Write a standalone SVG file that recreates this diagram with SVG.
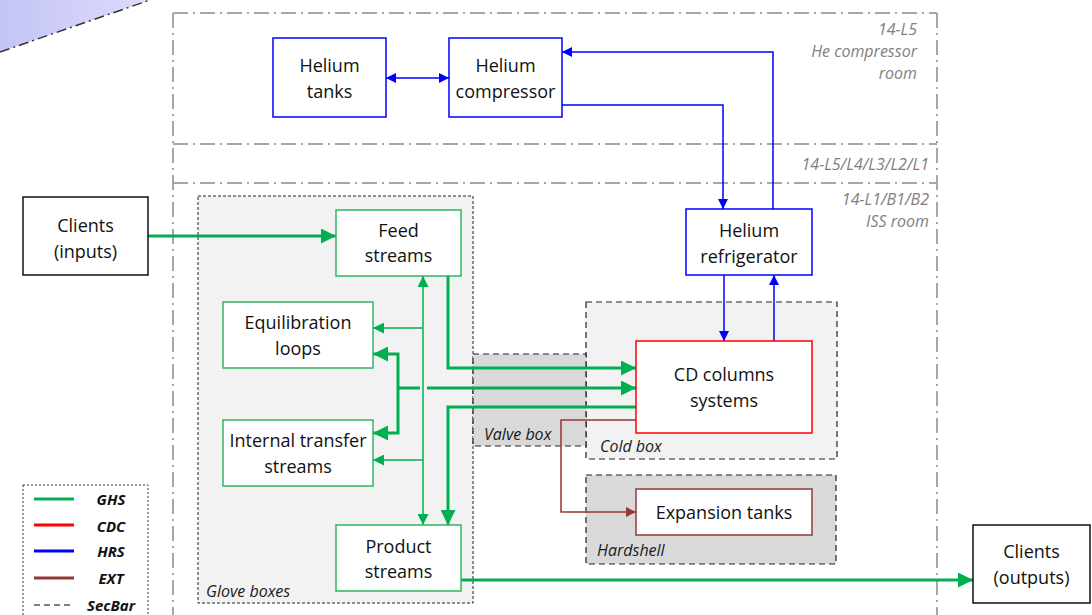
<svg xmlns="http://www.w3.org/2000/svg" width="1092" height="615" viewBox="0 0 1092 615">
<style>
.room{stroke:#a6a6a6;stroke-width:2;fill:none;stroke-dasharray:15 5 2 5}
.roomlbl{font-family:"Open Sans","Liberation Sans",sans-serif;font-style:italic;font-size:16px;fill:#808080;text-anchor:end}
.cont{stroke:#222;stroke-width:1.2;stroke-dasharray:6 4}
.glove{stroke:#222;stroke-width:1;stroke-dasharray:3 2;fill:#f2f2f2}
.contlbl{font-family:"Open Sans","Liberation Sans",sans-serif;font-style:italic;font-size:16px;fill:#1a1a1a}
.lbl{font-family:"Open Sans","Liberation Sans",sans-serif;font-size:18px;fill:#111;text-anchor:middle}
.nb{fill:#fff;stroke:#0000ff;stroke-width:1.5}
.ng{fill:#fff;stroke:#2db862;stroke-width:1.5}
.nr{fill:#fff;stroke:#ff0000;stroke-width:1.5}
.nx{fill:#fff;stroke:#953735;stroke-width:1.5}
.nk{fill:#fff;stroke:#111;stroke-width:1.5}
.gT{fill:none;stroke:#00b050;stroke-width:3}
.gt{fill:none;stroke:#00b050;stroke-width:1.5}
.b{fill:none;stroke:#0000ff;stroke-width:1.5}
.x{fill:none;stroke:#953735;stroke-width:1.5}
.leg{font-family:"Open Sans","Liberation Sans",sans-serif;font-style:italic;font-weight:bold;font-size:15px;fill:#111;text-anchor:middle}
</style>
<defs>
<linearGradient id="lav" x1="0" y1="0" x2="1" y2="0">
<stop offset="0" stop-color="#c4c4f6"/>
<stop offset="1" stop-color="#dcdcfc"/>
</linearGradient>
<marker id="aG" viewBox="0 0 10 10" refX="10" refY="5" markerUnits="userSpaceOnUse" markerWidth="15" markerHeight="15" orient="auto-start-reverse"><path d="M0,0 L10,5 L0,10 z" fill="#00b050"/></marker>
<marker id="ag" viewBox="0 0 10 10" refX="10" refY="5" markerUnits="userSpaceOnUse" markerWidth="11" markerHeight="11" orient="auto-start-reverse"><path d="M0,0 L10,5 L0,10 z" fill="#00b050"/></marker>
<marker id="ab" viewBox="0 0 10 10" refX="10" refY="5" markerUnits="userSpaceOnUse" markerWidth="10" markerHeight="10" orient="auto-start-reverse"><path d="M0,0 L10,5 L0,10 z" fill="#0000ff"/></marker>
<marker id="ax" viewBox="0 0 10 10" refX="10" refY="5" markerUnits="userSpaceOnUse" markerWidth="10" markerHeight="10" orient="auto-start-reverse"><path d="M0,0 L10,5 L0,10 z" fill="#953735"/></marker>
</defs>
<rect width="1092" height="615" fill="#fff"/>
<g id="corner">
<polygon points="0,0 150,0 0,52" fill="url(#lav)"/>
<line x1="0" y1="52" x2="150" y2="0" stroke="#333" stroke-width="1.5" stroke-dasharray="10 4 2 4"/>
</g>
<g id="rooms">
<line class="room" x1="173" y1="13" x2="937" y2="13"/>
<line class="room" x1="173" y1="144" x2="937" y2="144"/>
<line class="room" x1="173" y1="183" x2="937" y2="183"/>
<line class="room" x1="173" y1="13" x2="173" y2="615"/>
<line class="room" x1="937" y1="13" x2="937" y2="615"/>
<text class="roomlbl" x="917" y="35">14-L5</text>
<text class="roomlbl" x="917" y="57">He compressor</text>
<text class="roomlbl" x="917" y="79">room</text>
<text class="roomlbl" x="929" y="170">14-L5/L4/L3/L2/L1</text>
<text class="roomlbl" x="929" y="205">14-L1/B1/B2</text>
<text class="roomlbl" x="929" y="227">ISS room</text>
</g>
<g id="glove-boxes">
<rect class="glove" x="198" y="196" width="275" height="407"/>
<text class="contlbl" x="206" y="597">Glove boxes</text>
</g>
<g id="cold-box">
<rect class="cont" x="586" y="302" width="251" height="157" fill="#f2f2f2"/>
<text class="contlbl" x="600" y="452">Cold box</text>
</g>
<g id="valve-box">
<rect class="cont" x="473" y="354" width="113" height="92" fill="#d9d9d9"/>
<text class="contlbl" x="484" y="440">Valve box</text>
</g>
<g id="hardshell">
<rect class="cont" x="586" y="475" width="250" height="89" fill="#d9d9d9"/>
<text class="contlbl" x="597" y="556">Hardshell</text>
</g>
<g id="connectors">
<path class="gT" d="M148,236 H336" marker-end="url(#aG)"/>
<path class="gT" d="M448,276 V368 H636" marker-end="url(#aG)"/>
<path class="gT" d="M373,354 H398 V433 H373" marker-start="url(#aG)" marker-end="url(#aG)"/>
<path class="gT" d="M398,388 H420"/>
<path class="gT" d="M427,388 H636" marker-end="url(#aG)"/>
<path class="gT" d="M636,407 H448 V525" marker-end="url(#aG)"/>
<path class="gT" d="M461,580 H973" marker-end="url(#aG)"/>
<path class="gt" d="M423,276 V525" marker-start="url(#ag)" marker-end="url(#ag)"/>
<path class="gt" d="M423,328 H373" marker-end="url(#ag)"/>
<path class="gt" d="M423,460 H373" marker-end="url(#ag)"/>
<path class="b" d="M386,78 H449" marker-start="url(#ab)" marker-end="url(#ab)"/>
<path class="b" d="M562,105 H723 V209" marker-end="url(#ab)"/>
<path class="b" d="M773,209 V52 H562" marker-end="url(#ab)"/>
<path class="b" d="M724,275 V341" marker-end="url(#ab)"/>
<path class="b" d="M774,341 V275" marker-end="url(#ab)"/>
<path class="x" d="M636,420 H561 V512 H636" marker-end="url(#ax)"/>
</g>
<g id="helium-tanks">
<rect class="nb" x="273" y="38" width="113" height="79"/>
<text class="lbl" x="329.5" y="72">Helium</text>
<text class="lbl" x="329.5" y="98">tanks</text>
</g>
<g id="helium-compressor">
<rect class="nb" x="449" y="38" width="113" height="79"/>
<text class="lbl" x="505.5" y="72">Helium</text>
<text class="lbl" x="505.5" y="98">compressor</text>
</g>
<g id="helium-refrigerator">
<rect class="nb" x="686" y="209" width="126" height="66"/>
<text class="lbl" x="749" y="237">Helium</text>
<text class="lbl" x="749" y="263">refrigerator</text>
</g>
<g id="cd-columns">
<rect class="nr" x="636" y="341" width="176" height="92"/>
<text class="lbl" x="724" y="381">CD columns</text>
<text class="lbl" x="724" y="407">systems</text>
</g>
<g id="expansion-tanks">
<rect class="nx" x="636" y="489" width="176" height="46"/>
<text class="lbl" x="724" y="519">Expansion tanks</text>
</g>
<g id="feed-streams">
<rect class="ng" x="336" y="210" width="125" height="66"/>
<text class="lbl" x="398.5" y="237">Feed</text>
<text class="lbl" x="398.5" y="262">streams</text>
</g>
<g id="equilibration-loops">
<rect class="ng" x="223" y="302" width="150" height="66"/>
<text class="lbl" x="298" y="329">Equilibration</text>
<text class="lbl" x="298" y="355">loops</text>
</g>
<g id="internal-transfer">
<rect class="ng" x="223" y="420" width="150" height="66"/>
<text class="lbl" x="298" y="447">Internal transfer</text>
<text class="lbl" x="298" y="473">streams</text>
</g>
<g id="product-streams">
<rect class="ng" x="336" y="525" width="125" height="66"/>
<text class="lbl" x="398.5" y="553">Product</text>
<text class="lbl" x="398.5" y="578">streams</text>
</g>
<g id="clients-inputs">
<rect class="nk" x="23" y="197" width="125" height="78"/>
<text class="lbl" x="85.5" y="232">Clients</text>
<text class="lbl" x="85.5" y="258">(inputs)</text>
</g>
<g id="clients-outputs">
<rect class="nk" x="973" y="525" width="117" height="78"/>
<text class="lbl" x="1031.5" y="558">Clients</text>
<text class="lbl" x="1031.5" y="584">(outputs)</text>
</g>
<g id="legend">
<rect x="23" y="485" width="125" height="140" fill="#fff" stroke="#333" stroke-width="1" stroke-dasharray="2 2"/>
<line x1="34" y1="499" x2="74" y2="499" stroke="#00b050" stroke-width="3"/>
<line x1="34" y1="525" x2="74" y2="525" stroke="#ff0000" stroke-width="3"/>
<line x1="34" y1="551" x2="74" y2="551" stroke="#0000ff" stroke-width="3"/>
<line x1="34" y1="578" x2="74" y2="578" stroke="#953735" stroke-width="3"/>
<line x1="34" y1="605" x2="74" y2="605" stroke="#555" stroke-width="1.5" stroke-dasharray="6 4"/>
<text class="leg" x="111" y="505">GHS</text>
<text class="leg" x="111" y="532">CDC</text>
<text class="leg" x="111" y="557">HRS</text>
<text class="leg" x="111" y="584">EXT</text>
<text class="leg" x="111" y="611">SecBar</text>
</g>
</svg>
